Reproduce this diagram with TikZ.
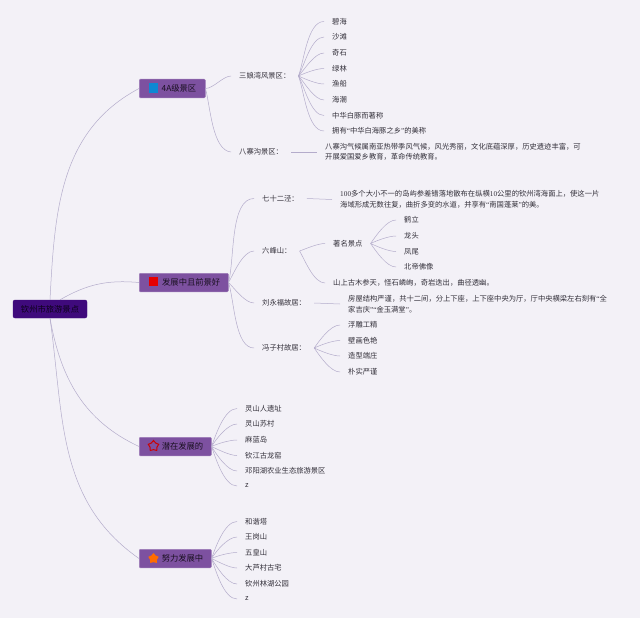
\documentclass[tikz,border=0pt]{standalone}
\usepackage{fontspec}
\setmainfont{Noto Sans CJK SC}
\newfontfamily\narrowfont{Liberation Serif}
\newcommand{\nar}[1]{{\narrowfont #1}}
\usetikzlibrary{positioning,shapes.geometric}
\definecolor{paper}{HTML}{F3F1F7}
\definecolor{wire}{HTML}{B4ACCB}
\definecolor{boxfill}{HTML}{7D51A0}
\definecolor{rootfill}{HTML}{3F0A7C}
\definecolor{ink}{HTML}{33303A}
\tikzset{
  topic/.style={anchor=west,inner xsep=8pt,inner ysep=1pt,text=ink,align=left,
    font=\fontsize{7.3}{10.5}\selectfont},
  branchbox/.style={anchor=west,fill=boxfill,draw=boxfill!75!white,line width=0.5pt,rounded corners=1pt,
    minimum height=18.5pt,inner xsep=3pt,inner ysep=0pt,text=black!80!boxfill,
    font=\fontsize{8.3}{10}\selectfont},
  rootbox/.style={fill=rootfill,draw=rootfill,rounded corners=2pt,minimum height=18pt,minimum width=74pt,
    inner sep=0pt,text=black!80!rootfill,font=\fontsize{8.3}{10}\selectfont},
  wires/.style={draw=wire,line width=0.5pt},
}
\begin{document}
\begin{tikzpicture}[x=1pt,y=-1pt]
        \fill[paper] (0,0) rectangle (640,618);
        \useasboundingbox (0,0) rectangle (640,618);
        \node[rootbox] at (50,309) (root) {钦州市旅游景点};
        \node[branchbox,minimum width=66pt,text width=60pt,align=right] at (139,88.5) (area4a) {4A级景区\hspace*{6pt}};
        \node[branchbox,minimum width=89pt,text width=83pt,align=right] at (139,282.5) (growing) {发展中且前景好\hspace*{5pt}};
        \node[branchbox,minimum width=72pt,text width=66pt,align=right] at (139,446.5) (potential) {潜在发展的\hspace*{5pt}};
        \node[branchbox,minimum width=72pt,text width=66pt,align=right] at (139,558.5) (striving) {努力发展中\hspace*{5pt}};
        \node[fill=cyan!70!blue,minimum size=9pt,inner sep=0pt] at (153,88) (iconblue) {};
        \node[fill=red!90!black,minimum size=9pt,inner sep=0pt] at (153,281.5) (iconred) {};
        \node[star,star points=5,draw=red!80!black,line width=1pt,minimum size=11pt,inner sep=0pt] at (153.5,446) (iconstar) {};
        \node[star,star points=5,fill=orange!85!red,minimum size=11pt,inner sep=0pt] at (153.5,558.5) (iconorange) {};

        \node[topic] at (231,76) (sanniang) {三娘湾风景区：};
        \node[topic] at (324,21.5) (bihai) {碧海};
        \node[topic] at (324,37) (shatan) {沙滩};
        \node[topic] at (324,53) (qishi) {奇石};
        \node[topic] at (324,68.5) (lvlin) {绿林};
        \node[topic] at (324,84) (yuchuan) {渔船};
        \node[topic] at (324,100) (haichao) {海潮};
        \node[topic] at (324,115.5) (baitun) {中华白豚而著称};
        \node[topic] at (324,131) (meicheng) {拥有\nar{“}中华白海豚之乡\nar{”}的美称};
        \node[topic] at (231,152) (bazhai) {八寨沟景区：};
        \node[topic] at (317,152) (bazhaitext) {八寨沟气候属南亚热带季风气候，风光秀丽，文化底蕴深厚，历史遗迹丰富，可\\开展爱国爱乡教育，革命传统教育。};

        \node[topic] at (254,198.5) (qishier) {七十二泾：};
        \node[topic] at (332,199.5) (qishiertext) {\nar{100}多个大小不一的岛屿参差错落地散布在纵横\nar{10}公里的钦州湾海面上，使这一片\\海域形成无数往复，曲折多变的水道，并享有\nar{“}南国蓬莱\nar{”}的美。};
        \node[topic] at (254,251) (liufeng) {六峰山：};
        \node[topic] at (325,243.5) (mingsheng) {著名景点};
        \node[topic] at (396,220) (heli) {鹤立};
        \node[topic] at (396,236) (longtou) {龙头};
        \node[topic] at (396,251.5) (fengwei) {凤尾};
        \node[topic] at (396,267) (beidi) {北帝佛像};
        \node[topic] at (325,283) (shanshang) {山上古木参天，怪石嶙峋，奇岩迭出，曲径透幽。};
        \node[topic] at (254,303) (liuyongfu) {刘永福故居：};
        \node[topic] at (340,304) (liutext) {房屋结构严谨，共十二间，分上下座，上下座中央为厅，厅中央横梁左右刻有\nar{“}全\\家吉庆\nar{”“}金玉满堂\nar{”}。};
        \node[topic] at (254,348) (fengzicun) {冯子村故居：};
        \node[topic] at (340,325) (fudiao) {浮雕工精};
        \node[topic] at (340,340.5) (bihua) {壁画色艳};
        \node[topic] at (340,356) (zaoxing) {造型端庄};
        \node[topic] at (340,372) (pushi) {朴实严谨};

        \node[topic] at (237,408.5) (lingshanren) {灵山人遗址};
        \node[topic] at (237,424) (suncun) {灵山苏村};
        \node[topic] at (237,440) (malan) {麻蓝岛};
        \node[topic] at (237,455.5) (longyao) {钦江古龙窑};
        \node[topic] at (237,471) (dengyang) {邓阳湖农业生态旅游景区};
        \node[topic] at (237,486) (zfirst) {z};

        \node[topic] at (237,521.5) (hexie) {和谐塔};
        \node[topic] at (237,537) (wanggang) {王岗山};
        \node[topic] at (237,552.5) (wuhuang) {五皇山};
        \node[topic] at (237,568) (dalu) {大芦村古宅};
        \node[topic] at (237,584) (linhu) {钦州林湖公园};
        \node[topic] at (237,599) (zsecond) {z};

        \path[wires]
        (root.north) edge [in = 208, out = 87] (area4a.west)
        ([xshift=10pt]root.north) edge [in = 175, out = 30] (growing.west)
        (root.south) edge [in = 155, out = -80] (potential.west)
        (root.south) edge [in = 145, out = -82] (striving.west)
        (bazhai.east) edge (bazhaitext.west)
        (qishier.east) edge (qishiertext.west)
        (liuyongfu.east) edge (liutext.west)
        ;
        \path[wires, looseness=0.7]
        (area4a.east) edge [in = 180, out = 0] (sanniang.west)
        (area4a.east) edge [in = 175, out = -75] (bazhai.west)
        (sanniang.east) edge [in = 180, out = 70] (bihai.west)
        (sanniang.east) edge [in = 180, out = 62] (shatan.west)
        (sanniang.east) edge [in = 180, out = 48] (qishi.west)
        (sanniang.east) edge [in = 180, out = 25] (lvlin.west)
        (sanniang.east) edge [in = 180, out = -25] (yuchuan.west)
        (sanniang.east) edge [in = 180, out = -48] (haichao.west)
        (sanniang.east) edge [in = 180, out = -62] (baitun.west)
        (sanniang.east) edge [in = 180, out = -70] (meicheng.west)
        (growing.east) edge [in = 180, out = 75] (qishier.west)
        (growing.east) edge [in = 180, out = 60] (liufeng.west)
        (growing.east) edge [in = 180, out = -45] (liuyongfu.west)
        (growing.east) edge [in = 180, out = -72] (fengzicun.west)
        (liufeng.east) edge [in = 180, out = 20] (mingsheng.west)
        (liufeng.east) edge [in = 180, out = -60] (shanshang.west)
        (mingsheng.east) edge [in = 180, out = 55] (heli.west)
        (mingsheng.east) edge [in = 180, out = 25] (longtou.west)
        (mingsheng.east) edge [in = 180, out = -25] (fengwei.west)
        (mingsheng.east) edge [in = 180, out = -55] (beidi.west)
        (fengzicun.east) edge [in = 180, out = 55] (fudiao.west)
        (fengzicun.east) edge [in = 180, out = 25] (bihua.west)
        (fengzicun.east) edge [in = 180, out = -25] (zaoxing.west)
        (fengzicun.east) edge [in = 180, out = -55] (pushi.west)
        (potential.east) edge [in = 180, out = 70] (lingshanren.west)
        (potential.east) edge [in = 180, out = 58] (suncun.west)
        (potential.east) edge [in = 180, out = 25] (malan.west)
        (potential.east) edge [in = 180, out = -25] (longyao.west)
        (potential.east) edge [in = 180, out = -58] (dengyang.west)
        (potential.east) edge [in = 180, out = -70] (zfirst.west)
        (striving.east) edge [in = 180, out = 70] (hexie.west)
        (striving.east) edge [in = 180, out = 58] (wanggang.west)
        (striving.east) edge [in = 180, out = 25] (wuhuang.west)
        (striving.east) edge [in = 180, out = -25] (dalu.west)
        (striving.east) edge [in = 180, out = -58] (linhu.west)
        (striving.east) edge [in = 180, out = -70] (zsecond.west)
        ;
    \end{tikzpicture}
\end{document}
